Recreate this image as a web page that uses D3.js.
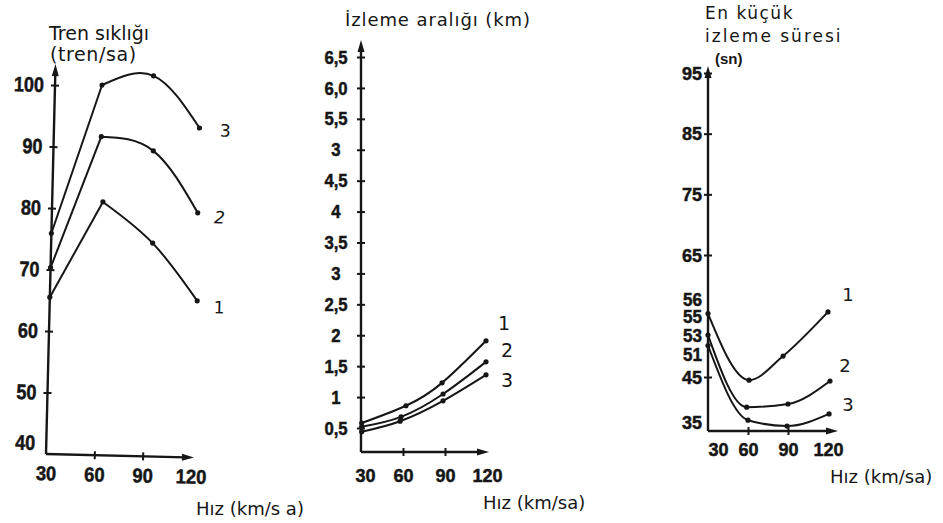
<!DOCTYPE html>
<html><head><meta charset="utf-8">
<script src="https://cdn.jsdelivr.net/npm/d3@7"></script>
<style>
html,body{margin:0;padding:0;background:#fff;}
svg{display:block;}
.title{font-family:"DejaVu Sans",sans-serif;fill:#161616;}
.tick text{font-family:"Liberation Sans",Arial,sans-serif;font-weight:bold;fill:#161616;stroke:#161616;stroke-width:0.5px;}
.narrow{transform-box:fill-box;}
.clabel{font-family:"DejaVu Sans",sans-serif;fill:#161616;}
</style></head><body>
<svg id="chart" width="943" height="523"></svg>
<script>
// ================= DATA =================
const speedTicks = [30, 60, 90, 120];
const curveNames = ["1", "2", "3"];

// Panel 1 : Tren sıklığı (tren/sa)
const freqTicks = [40, 50, 60, 70, 80, 90, 100];
const freqSpeed1 = [30, 61.5, 93, 121.5];
const freqValue1 = [65.5, 81.2, 74.7, 65.5];
const freqSpeed2 = [30, 59.5, 92, 120.5];
const freqValue2 = [70.3, 91.8, 89.7, 79.8];
const freqSpeed3 = [30, 59.2, 91, 120.3];
const freqValue3 = [75.9, 100.2, 101.9, 93.6];

// Panel 2 : İzleme aralığı (km)
const distTicks = [0.5, 1, 1.5, 2, 2.5, 3, 3.5, 4, 4.5, 5, 5.5, 6, 6.5];
const distTickLabels = ["0,5", "1", "1,5", "2", "2,5", "3", "3,5", "4", "4,5", "3", "5,5", "6,0", "6,5"];
const distSpeed1 = [30.5, 62.1, 87.9, 119.3];
const distValue1 = [0.58, 0.86, 1.23, 1.91];
const distSpeed2 = [30.5, 58.6, 88.6, 119.3];
const distValue2 = [0.52, 0.68, 1.05, 1.57];
const distSpeed3 = [30.5, 57.9, 88.6, 119.3];
const distValue3 = [0.44, 0.61, 0.94, 1.36];

// Panel 3 : En küçük izleme süresi (sn)
const timeTicks = [35, 45, 51, 53, 55, 56, 65, 75, 85, 95];
const timeMarkedTicks = [45, 65, 75, 85, 95];
const timeSpeed1 = [30, 60.8, 86.3, 120];
const timeValue1 = [55.2, 44.3, 50.7, 55.3];
const timeSpeed2 = [30, 59, 90, 121.5];
const timeValue2 = [53.1, 38.3, 39, 44.1];
const timeSpeed3 = [30, 60, 89.3, 120.8];
const timeValue3 = [52, 35.4, 34.1, 36.8];

// ================= DRAWING =================
const svg = d3.select("#chart");
const INK = "#161616";

function arrowUp(g, x, tip) {
  g.append("path").attr("d", `M${x},${tip} L${x-3.5},${tip+12} L${x+3.5},${tip+12} Z`).attr("fill", INK);
}
function arrowRight(g, tip, y) {
  g.append("path").attr("d", `M${tip},${y} L${tip-12},${y-3.5} L${tip-12},${y+3.5} Z`).attr("fill", INK);
}
function axisLine(g, x1, y1, x2, y2) {
  g.append("line").attr("x1", x1).attr("y1", y1).attr("x2", x2).attr("y2", y2)
    .attr("stroke", INK).attr("stroke-width", 2.4);
}
function styleAxis(sel, fontSize, sx, origin) {
  sel.select(".domain").remove();
  sel.selectAll(".tick line").attr("stroke", INK).attr("stroke-width", 2);
  const t = sel.selectAll(".tick text").style("font-size", fontSize + "px");
  if (sx && sx !== 1) {
    t.classed("narrow", true).style("transform-origin", origin || "center").style("transform", `scaleX(${sx})`);
  }
}
function drawCurve(g, pts, curve) {
  g.append("path").attr("d", d3.line().curve(curve)(pts))
    .attr("fill", "none").attr("stroke", INK).attr("stroke-width", 2);
}
function dots(g, pts) {
  g.selectAll(null).data(pts).enter().append("circle")
    .attr("cx", d => d[0]).attr("cy", d => d[1]).attr("r", 2.6).attr("fill", INK);
}

// ---------- Panel 1 ----------
{
  const g = svg.append("g").attr("transform", "translate(46,454) rotate(1.4)");
  const x = d3.scaleLinear().domain([30, 120]).range([0, 145]);
  const y = d3.scaleLinear().domain([40, 100]).range([0, -369]);

  axisLine(g, 0, 0, 0, -380);
  arrowUp(g, 0, -390);
  axisLine(g, 0, 0, 140, 0);
  arrowRight(g, 148, 0);

  const ya = g.append("g").call(d3.axisLeft(y).tickValues(freqTicks).tickSize(4).tickPadding(7).tickFormat(d3.format("d")));
  styleAxis(ya, 21, 0.86, "right center");
  ya.selectAll(".tick").append("line").attr("x2", 4).attr("stroke", INK).attr("stroke-width", 2);
  ya.selectAll(".tick").filter(d => d === 40).selectAll("line").remove();
  ya.selectAll(".tick").filter(d => d === 40).select("text").attr("y", -11);

  const xa = g.append("g").call(d3.axisBottom(x).tickValues(speedTicks).tickSize(4).tickPadding(8));
  styleAxis(xa, 20, 0.92, "center");
  xa.selectAll(".tick").append("line").attr("y2", -4).attr("stroke", INK).attr("stroke-width", 2);
  xa.selectAll(".tick").filter(d => d === 30 || d === 120).selectAll("line").remove();

  const series = [[freqSpeed1, freqValue1], [freqSpeed2, freqValue2], [freqSpeed3, freqValue3]];
  const labOff = [[22, 6], [22, 4], [26, 2]];
  series.forEach((s, i) => {
    const pts = d3.zip(s[0], s[1]).map(d => [x(d[0]), y(d[1])]);
    drawCurve(g, pts.slice(0, 2), d3.curveLinear);
    drawCurve(g, pts.slice(1), d3.curveNatural);
    dots(g, pts);
    const e = pts[pts.length - 1];
    g.append("text").attr("class", "clabel").attr("x", e[0] + labOff[i][0]).attr("y", e[1] + labOff[i][1])
      .attr("text-anchor", "middle").attr("dominant-baseline", "central")
      .style("font-size", "17px").style("font-style", i === 1 ? "italic" : "normal").text(curveNames[i]);
  });
}
svg.append("text").attr("class", "title").attr("x", 49).attr("y", 40).style("font-size", "19px").text("Tren sıklığı");
svg.append("text").attr("class", "title").attr("x", 50).attr("y", 61).style("font-size", "19px").style("letter-spacing", "0.6px").text("(tren/sa)");
svg.append("text").attr("class", "title").attr("x", 196).attr("y", 515).style("font-size", "18px").text("Hız (km/s a)");

// ---------- Panel 2 ----------
{
  const g = svg.append("g");
  const ox = 361, oy = 452;
  const x = d3.scaleLinear().domain([30, 120]).range([361, 487]);
  const y = d3.scaleLinear().domain([0.5, 6.5]).range([428, 57]);

  axisLine(g, ox, oy, ox, 50);
  arrowUp(g, ox, 40);
  axisLine(g, ox, oy, 480, oy);
  arrowRight(g, 489, oy);

  const ya = g.append("g").attr("transform", `translate(${ox},0)`)
    .call(d3.axisLeft(y).tickValues(distTicks).tickSize(4).tickFormat((d, i) => distTickLabels[i]));
  ya.selectAll(".tick text").attr("text-anchor", "middle").attr("x", -25);
  styleAxis(ya, 19, 0.88, "center");
  ya.selectAll(".tick").append("line").attr("x2", 4).attr("stroke", INK).attr("stroke-width", 2);

  const xa = g.append("g").attr("transform", `translate(0,${oy})`)
    .call(d3.axisBottom(x).tickValues(speedTicks).tickSize(4).tickPadding(13));
  styleAxis(xa, 19, 0.95, "center");
  xa.selectAll(".tick").append("line").attr("y2", -4).attr("stroke", INK).attr("stroke-width", 2);
  xa.selectAll(".tick").filter(d => d === 30 || d === 120).selectAll("line").remove();
  xa.selectAll(".tick").filter(d => d === 30).select("text").attr("x", 4);

  const series = [[distSpeed1, distValue1], [distSpeed2, distValue2], [distSpeed3, distValue3]];
  const labOff = [[18, -18], [21, -12], [21, 5]];
  series.forEach((s, i) => {
    const pts = d3.zip(s[0], s[1]).map(d => [x(d[0]), y(d[1])]);
    drawCurve(g, pts, d3.curveNatural);
    dots(g, pts);
    const e = pts[pts.length - 1];
    g.append("text").attr("class", "clabel").attr("x", e[0] + labOff[i][0]).attr("y", e[1] + labOff[i][1])
      .attr("text-anchor", "middle").attr("dominant-baseline", "central")
      .style("font-size", "19px").text(curveNames[i]);
  });
}
svg.append("text").attr("class", "title").attr("x", 345).attr("y", 26).style("font-size", "18px").style("letter-spacing", "0.9px").text("İzleme aralığı (km)");
svg.append("text").attr("class", "title").attr("x", 483).attr("y", 509).style("font-size", "18px").text("Hız (km/sa)");

// ---------- Panel 3 ----------
{
  const g = svg.append("g");
  const ox = 708, oy = 431;
  const x = d3.scaleLinear().domain([30, 120]).range([708, 828]);
  const y = d3.scaleLinear().domain([35, 45, 51, 53, 55, 56, 65, 95]).range([422, 377, 355, 336, 317, 300, 255, 73]);

  axisLine(g, ox, oy, ox, 76);
  arrowUp(g, ox, 66);
  axisLine(g, ox, oy, 829, oy);
  arrowRight(g, 838, oy);

  const ya = g.append("g").attr("transform", `translate(${ox},0)`)
    .call(d3.axisLeft(y).tickValues(timeTicks).tickSize(4).tickPadding(2).tickFormat(d3.format("d")));
  styleAxis(ya, 19, 0.95, "right center");
  ya.selectAll(".tick").append("line").attr("x2", 4).attr("stroke", INK).attr("stroke-width", 2);
  ya.selectAll(".tick").filter(d => !timeMarkedTicks.includes(d)).selectAll("line").remove();
  ya.selectAll(".tick").filter(d => d >= 51 && d <= 56).select("text").style("font-size", "18px");

  const xa = g.append("g").attr("transform", `translate(0,${oy})`)
    .call(d3.axisBottom(x).tickValues(speedTicks).tickSize(4).tickPadding(8));
  styleAxis(xa, 19, 0.95, "center");
  xa.selectAll(".tick").append("line").attr("y2", -4).attr("stroke", INK).attr("stroke-width", 2);
  xa.selectAll(".tick").filter(d => d === 30 || d === 120).selectAll("line").remove();
  xa.selectAll(".tick").filter(d => d === 30).select("text").attr("x", 10);

  const series = [[timeSpeed1, timeValue1], [timeSpeed2, timeValue2], [timeSpeed3, timeValue3]];
  const labOff = [[20, -17], [15, -16], [19, -9]];
  series.forEach((s, i) => {
    const pts = d3.zip(s[0], s[1]).map(d => [x(d[0]), y(d[1])]);
    drawCurve(g, pts, d3.curveMonotoneX);
    dots(g, pts);
    const e = pts[pts.length - 1];
    g.append("text").attr("class", "clabel").attr("x", e[0] + labOff[i][0]).attr("y", e[1] + labOff[i][1])
      .attr("text-anchor", "middle").attr("dominant-baseline", "central")
      .style("font-size", "18px").text(curveNames[i]);
  });
}
svg.append("text").attr("class", "title").attr("x", 705).attr("y", 19).style("font-size", "17px").style("letter-spacing", "1.5px").text("En küçük");
svg.append("text").attr("class", "title").attr("x", 705).attr("y", 42).style("font-size", "17px").style("letter-spacing", "2px").text("izleme süresi");
svg.append("text").attr("class", "title").attr("x", 715).attr("y", 64)
  .style("font-family", "'Liberation Sans',Arial,sans-serif").style("font-weight", "bold").style("font-size", "15px").text("(sn)");
svg.append("text").attr("class", "title").attr("x", 830).attr("y", 483).style("font-size", "18px").text("Hız (km/sa)");
</script>
</body></html>
